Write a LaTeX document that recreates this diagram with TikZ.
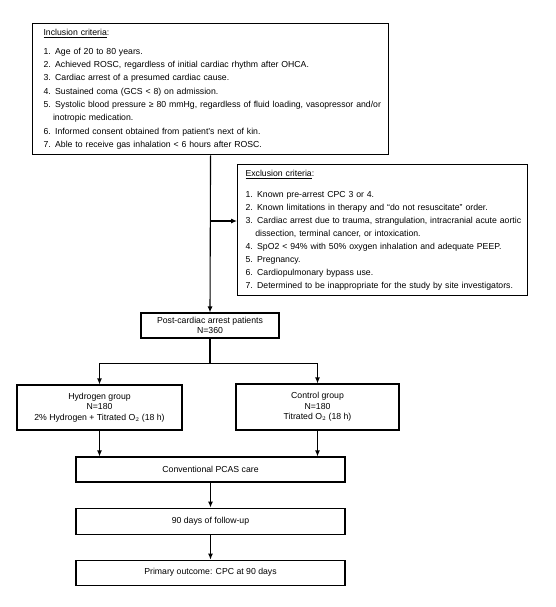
\documentclass[tikz,border=0pt]{standalone}
\usepackage{fontspec}
\setmainfont{Liberation Sans}
\usetikzlibrary{arrows.meta,positioning}

\begin{document}
\begin{tikzpicture}[x=1pt, y=-1pt, node distance=25pt and 25pt,
    line width=1.1pt, >={Latex[length=6pt,width=5pt]},
    box/.style={draw, align=center, inner sep=0pt, minimum width=269pt, minimum height=25pt, font=\fontsize{8.7}{10.5}\selectfont},
    crit/.style={draw, anchor=north west, align=left, inner ysep=5.5pt, font=\fontsize{8.7}{13.3}\selectfont}]
      \useasboundingbox (0,0) rectangle (555,607);

      \node[crit] (incl) at (32,23) [text width=346pt, inner xsep=5pt] {\leftskip=6pt
        \underline{Inclusion criteria}:\\[5.7pt]
        1. Age of 20 to 80 years.\\
        2. Achieved ROSC, regardless of initial cardiac rhythm after OHCA.\\
        3. Cardiac arrest of a presumed cardiac cause.\\
        4. Sustained coma (GCS < 8) on admission.\\
        5. Systolic blood pressure ≥ 80 mmHg, regardless of fluid loading, vasopressor and/or\\
        \hspace*{9.5pt}inotropic medication.\\
        6. Informed consent obtained from patient's next of kin.\\
        7. Able to receive gas inhalation < 6 hours after ROSC.\par};
      \node[crit] (excl) at (237,164) [text width=282pt, inner xsep=4pt, font=\fontsize{8.7}{13}\selectfont] {\leftskip=4pt
        \underline{Exclusion criteria}:\\[8pt]
        1. Known pre-arrest CPC 3 or 4.\\
        2. Known limitations in therapy and “do not resuscitate” order.\\
        3. Cardiac arrest due to trauma, strangulation, intracranial acute aortic\\
        \hspace*{9.7pt}dissection, terminal cancer, or intoxication.\\
        4. SpO2 < 94\% with 50\% oxygen inhalation and adequate PEEP.\\
        5. Pregnancy.\\
        6. Cardiopulmonary bypass use.\\
        7. Determined to be inappropriate for the study by site investigators.\par};

      \node[box] (post) at (210,325.5) [minimum width=138pt] {Post-cardiac arrest patients\\N=360};
      \node[box] (hydro) at (99.5,407.5) [minimum width=165pt, minimum height=45pt] {Hydrogen group\\N=180\\2\% Hydrogen + Titrated O$_2$ (18 h)};
      \node[box] (ctrl) at (317.5,407) [minimum width=163pt, minimum height=46pt] {Control group\\N=180\\Titrated O$_2$ (18 h)};
      \node[box] (conv) at (210.5,469.5) {Conventional PCAS care};
      \node[box] (days) [below=of conv, minimum height=26pt] {90 days of follow-up};
      \node[box] (prim) [below=of days] {Primary outcome: CPC at 90 days};

      \coordinate (split) at (210,221);
      \draw[->] (incl.south) -- (post.north);
      \draw[->] (split) -- (split -| excl.west);
      \draw (post.south) -- ++(0,25) coordinate (fork);
      \draw[->] (fork) -| (hydro.north);
      \draw[->] (fork) -| (ctrl.north);
      \draw[->] (hydro.south) -- (hydro.south |- conv.north);
      \draw[->] (ctrl.south) -- (ctrl.south |- conv.north);
      \draw[->] (conv) -- (days);
      \draw[->] (days) -- (prim);
    \end{tikzpicture}
\end{document}
